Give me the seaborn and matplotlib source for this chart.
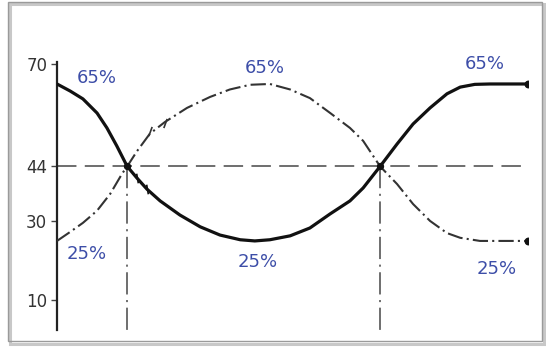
import matplotlib
matplotlib.use("Agg")
import matplotlib.pyplot as plt
from matplotlib.patches import Rectangle
import seaborn as sns

# Solid curve: starts high, dips to its minimum, returns high
time_solid = [0.00, 0.28, 0.55, 0.85, 1.06, 1.27, 1.49, 1.70, 1.91, 2.19, 2.61, 3.04,
              3.46, 3.89, 4.20, 4.52, 4.95, 5.37, 5.80, 6.22, 6.50, 6.86, 7.22, 7.56,
              7.92, 8.28, 8.56, 8.87, 9.19, 10.00]
value_solid = [65.0, 63.2, 61.2, 57.6, 53.8, 49.2, 44.0, 41.0, 38.2, 35.2, 31.6, 28.6,
               26.5, 25.3, 25.0, 25.3, 26.3, 28.3, 31.9, 35.2, 38.5, 44.0, 49.7, 54.8,
               58.9, 62.5, 64.2, 64.9, 65.0, 65.0]

# Dash-dot curve: starts low, peaks, returns low
time_dash = [0.00, 0.28, 0.55, 0.85, 1.13, 1.38, 1.49, 1.70, 1.97, 2.29, 2.76, 3.25,
             3.67, 4.10, 4.52, 4.95, 5.37, 5.80, 6.22, 6.50, 6.86, 7.22, 7.56, 7.92,
             8.28, 8.56, 8.98, 10.00]
value_dash = [25.0, 27.3, 29.6, 32.7, 37.0, 42.1, 44.0, 47.9, 52.3, 55.3, 58.9, 61.7,
              63.6, 64.8, 65.0, 63.6, 61.4, 57.6, 53.8, 50.5, 44.0, 39.5, 34.4, 30.1,
              27.0, 25.8, 25.0, 25.0]

# Where the two curves cross
cross_time = [1.49, 6.86]
cross_value = 44

y_ticks = [10, 30, 44, 70]
y_tick_labels = ["10", "30", "44", "70"]

high_label = "65%"
low_label = "25%"

sns.set_style("white")
plt.rcParams["lines.scale_dashes"] = False
plt.rcParams["font.family"] = ["DejaVu Sans"]

W, H = 546, 348
fig = plt.figure(figsize=(W / 100, H / 100), dpi=100)
fig.patch.set_facecolor("white")

# frame around the drawing, with a soft shadow
fig.add_artist(Rectangle((10 / W, 1 - 344 / H), 534 / W, 340 / H, transform=fig.transFigure,
                         facecolor="none", edgecolor="#c8c8c8", lw=2.2, zorder=0))
fig.add_artist(Rectangle((8 / W, 1 - 341 / H), 534 / W, 339 / H, transform=fig.transFigure,
                         facecolor="none", edgecolor="#9a9a9a", lw=1.0, zorder=1))

ax = fig.add_axes([57 / W, 1 - 330 / H, 471 / W, (330 - 62.4) / H])
ax.set_facecolor("none")

# reference lines through the crossings
ax.axhline(cross_value, color="#555555", lw=1.2, dashes=(14, 6), zorder=1)
for t in cross_time:
    ax.plot([t, t], [cross_value, 2.3], color="#555555", lw=1.2,
            dashes=(16, 4, 1.5, 4), zorder=1)

sns.lineplot(x=time_solid, y=value_solid, ax=ax, color="#111111", lw=2.3,
             sort=False, estimator=None, zorder=3, solid_joinstyle="round")
sns.lineplot(x=time_dash, y=value_dash, ax=ax, color="#333333", lw=1.5,
             sort=False, estimator=None, zorder=3)
ax.lines[-1].set_dashes((11, 3, 1.5, 3))

# small direction marks just past the first crossing
ax.plot(time_dash[8:10], [value_dash[8] + 0.8, value_dash[9] - 0.2], ls="none",
        marker=(2, 0, -20), ms=7, mew=1.2, color="#333333", zorder=3)
ax.plot(time_solid[7:9], value_solid[7:9], ls="none",
        marker=(2, 0, 10), ms=7, mew=1.2, color="#111111", zorder=3)

# end points and crossing points
ax.scatter([time_solid[-1], time_dash[-1]], [value_solid[-1], value_dash[-1]],
           s=22, color="#111111", zorder=4)
ax.scatter(cross_time, [cross_value] * len(cross_time), s=18, color="#111111", zorder=4)

# percentage annotations
blue = "#3d4ea8"
notes = [
    (high_label, time_solid[0], value_solid[0], (40, 6)),
    (low_label, time_dash[0], value_dash[0], (30, -13)),
    (high_label, time_dash[14], value_dash[14], (-5, 16)),
    (low_label, time_solid[14], value_solid[14], (3, -21)),
    (high_label, time_solid[-1], value_solid[-1], (-43, 20)),
    (low_label, time_dash[-1], value_dash[-1], (-31, -28)),
]
for text, x, y, off in notes:
    ax.annotate(text, (x, y), xytext=off, textcoords="offset pixels",
                ha="center", va="center", fontsize=13, color=blue)

ax.set_xlim(0, 10)
ax.set_ylim(2.3, 70.5)
ax.set_yticks(y_ticks)
ax.set_yticklabels(y_tick_labels)
ax.set_xticks([])
ax.tick_params(axis="y", length=4, width=1, color="#444444", pad=3,
               labelsize=12, labelcolor="#333333", left=True)
for side in ["top", "right", "bottom"]:
    ax.spines[side].set_visible(False)
ax.spines["left"].set_color("#222222")
ax.spines["left"].set_linewidth(1.6)

fig.savefig("out.png", dpi=100, facecolor="white")
